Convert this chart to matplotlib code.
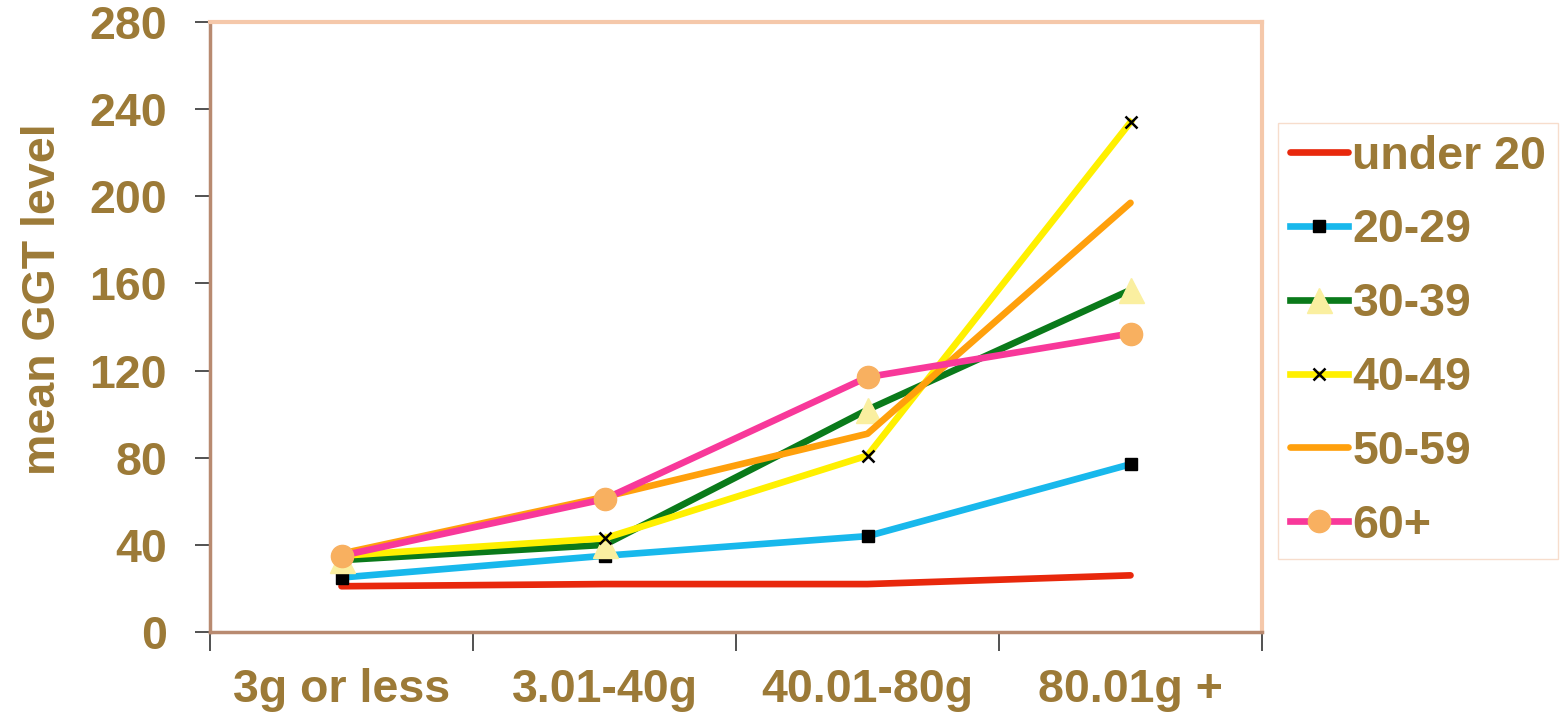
import numpy as np
from matplotlib import pyplot as plt

categories = ['3g or less', '3.01-40g', '40.01-80g', '80.01g +']
under20 = [21, 22, 22, 26]
age20_29 = [25, 35, 44, 77]
age30_39 = [33, 40, 102, 157]
age40_49 = [35, 43, 81, 234]
age50_59 = [36, 62, 91, 197]
age60_plus = [35, 61, 117, 137]

brown = '#9C7A37'
fs = 33.5
plt.rcParams['font.family'] = ['Liberation Sans', 'DejaVu Sans']

fig = plt.figure(figsize=(15.62, 7.18), dpi=100)
ax = fig.add_axes([210 / 1562, 1 - 632 / 718, (1262 - 210) / 1562, (632 - 22) / 718])

x = np.arange(len(categories)) + 0.5
lw = 4.8
ax.plot(x, under20, color='#E8280C', lw=lw, solid_capstyle='round', label='under 20')
ax.plot(x, age20_29, color='#18B8EC', lw=lw, marker='s', ms=9, mfc='black', mec='black', label='20-29')
ax.plot(x, age30_39, color='#0A7A1A', lw=lw, marker='^', ms=18, mfc='#FAEFA0', mec='#FAEFA0', label='30-39')
ax.plot(x, age40_49, color='#FFF000', lw=lw, marker='x', ms=8, mew=1.8, mfc='black', mec='black', label='40-49')
ax.plot(x, age50_59, color='#FFA00C', lw=lw, solid_capstyle='round', label='50-59')
ax.plot(x, age60_plus, color='#F8389A', lw=lw, marker='o', ms=16, mfc='#F8B060', mec='#F8B060', label='60+')

ax.set_xlim(0, 4)
ax.set_ylim(0, 280)
ax.set_yticks(range(0, 281, 40))
ax.set_xticks(range(5))
ax.set_xticklabels([])
ax.set_xticks(x, minor=True)
ax.set_xticklabels(categories, minor=True)
ax.tick_params(axis='x', which='minor', length=0, pad=26)
ax.tick_params(axis='x', which='major', length=14, width=1.2, color='#333333')
ax.tick_params(axis='y', length=11, width=1.2, color='#333333', pad=20)
for lab in ax.get_xticklabels(minor=True) + ax.get_yticklabels():
    lab.set_fontsize(fs)
    lab.set_fontweight('bold')
    lab.set_color(brown)

for side in ['top', 'right']:
    ax.spines[side].set_color('#F5C8AA')
    ax.spines[side].set_linewidth(3)
for side in ['left', 'bottom']:
    ax.spines[side].set_color('#B88A70')
    ax.spines[side].set_linewidth(2.5)

ax.set_ylabel('mean GGT level', fontsize=fs, fontweight='bold', color=brown)
ax.yaxis.set_label_coords(-0.138, 0.546)

leg = fig.legend(loc='upper right', bbox_to_anchor=(1558 / 1562, 1 - 123 / 718),
                 frameon=True, fancybox=False, fontsize=fs, handlelength=1.25,
                 handletextpad=0.1, labelspacing=0.64, borderpad=0.25,
                 borderaxespad=0, edgecolor='#F5D5C0')
for t in leg.get_texts():
    t.set_fontweight('bold')
    t.set_color(brown)

fig.savefig('out.png', dpi=100)
